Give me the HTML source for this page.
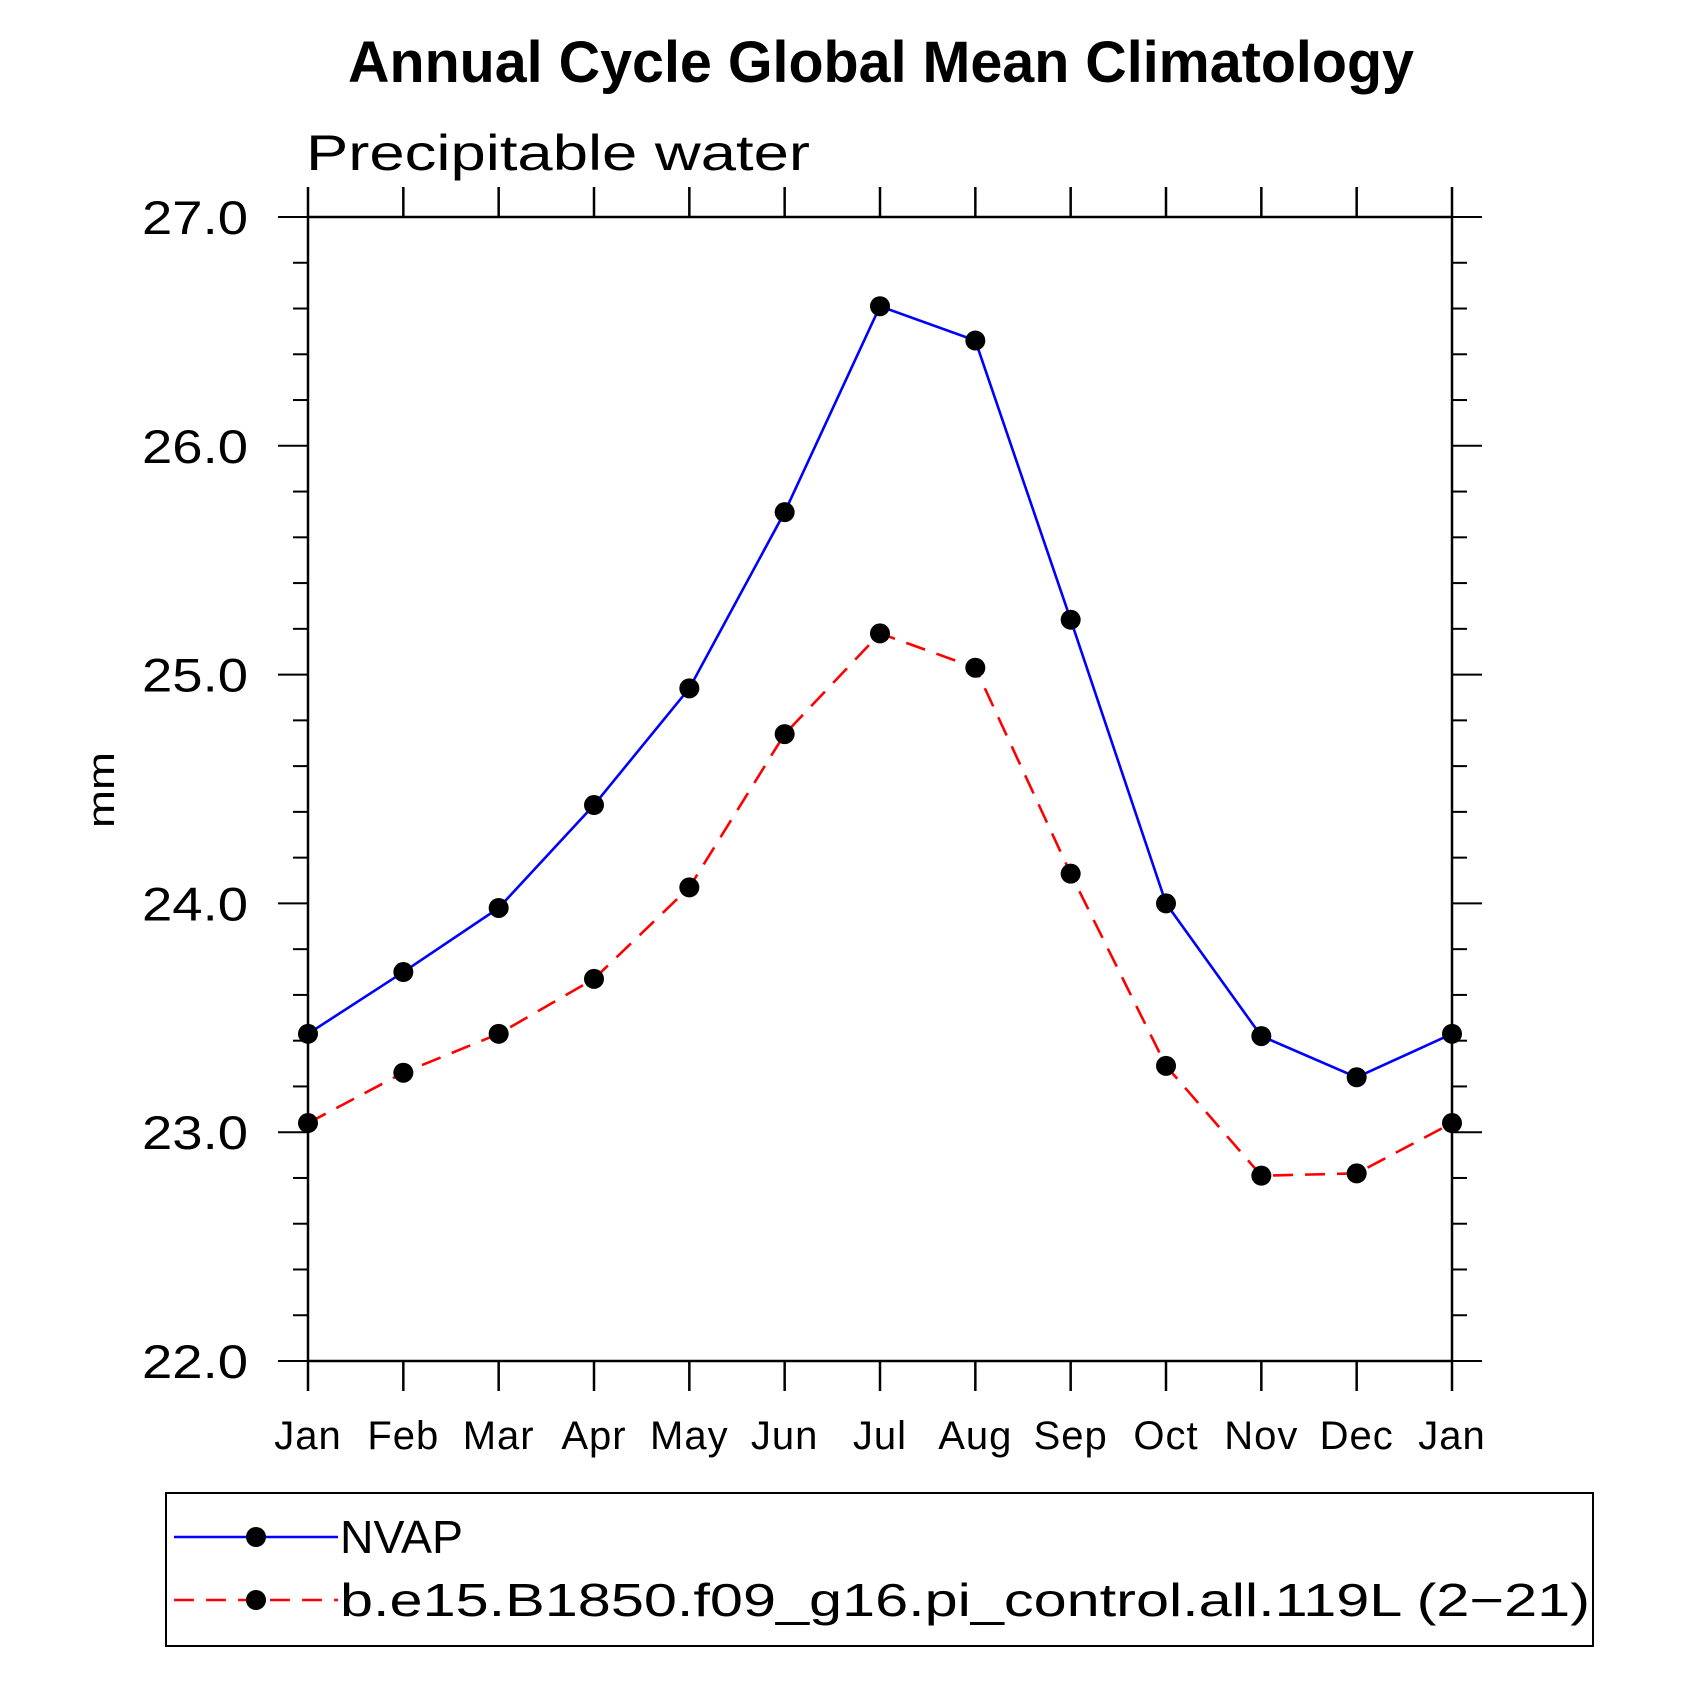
<!DOCTYPE html>
<html><head><meta charset="utf-8"><style>
html,body{margin:0;padding:0;background:#fff;}
svg{display:block;font-family:"Liberation Sans",sans-serif;}
</style></head><body>
<svg id="chart" width="1685" height="1685" viewBox="0 0 1685 1685">
<text x="348" y="82" font-size="58" font-weight="bold" textLength="1066" lengthAdjust="spacingAndGlyphs">Annual Cycle Global Mean Climatology</text>
<text x="306" y="170" font-size="50" textLength="504" lengthAdjust="spacingAndGlyphs">Precipitable water</text>
<text transform="translate(114,790) rotate(-90)" text-anchor="middle" font-size="38" textLength="76" lengthAdjust="spacingAndGlyphs">mm</text>
<g id="axes"></g>
<g id="series"></g>
<rect x="166" y="1493" width="1427" height="153" fill="none" stroke="#000" stroke-width="2"/>
<g>
<line x1="174" y1="1537" x2="338" y2="1537" stroke="#0000ff" stroke-width="2.5"/>
<circle cx="256" cy="1537" r="10" fill="#000"/>
<text x="340" y="1553" font-size="46" textLength="123" lengthAdjust="spacingAndGlyphs">NVAP</text>
</g>
<g>
<line x1="174" y1="1600" x2="338" y2="1600" stroke="#ff0000" stroke-width="2.5" stroke-dasharray="20,12"/>
<circle cx="256" cy="1600" r="10" fill="#000"/>
<text x="340" y="1616" font-size="46" textLength="1250" lengthAdjust="spacingAndGlyphs">b.e15.B1850.f09_g16.pi_control.all.119L (2−21)</text>
</g>
</svg>
<script>
const months = ["Jan","Feb","Mar","Apr","May","Jun","Jul","Aug","Sep","Oct","Nov","Dec","Jan"];
const nvap = [23.43,23.70,23.98,24.43,24.94,25.71,26.61,26.46,25.24,24.00,23.42,23.24,23.43];
const model = [23.04,23.26,23.43,23.67,24.07,24.74,25.18,25.03,24.13,23.29,22.81,22.82,23.04];
const yTicks = [22,23,24,25,26,27];
const yMin = 22, yMax = 27;
const L=308,R=1452,T=217,B=1361;
const NS="http://www.w3.org/2000/svg";
function xs(i){return L+(R-L)*i/(months.length-1);}
function ys(v){return B-(B-T)*(v-yMin)/(yMax-yMin);}
function mk(tag,attrs,parent){const e=document.createElementNS(NS,tag);for(const k in attrs)e.setAttribute(k,attrs[k]);parent.appendChild(e);return e;}
const ax=document.getElementById('axes');
const frame=mk('rect',{x:L,y:T,width:R-L,height:B-T,fill:'none',stroke:'#000','stroke-width':2.5},ax);


months.forEach((m,i)=>{
  const x=xs(i);
  const t1=mk('line',{x1:x,y1:B,x2:x,y2:B+30,stroke:'#000','stroke-width':2.5},ax);
  
  
  const t2=mk('line',{x1:x,y1:T,x2:x,y2:T-30,stroke:'#000','stroke-width':2.5},ax);
  
  
  const tx=mk('text',{x:x,y:1449,'text-anchor':'middle','font-size':40,'letter-spacing':1},ax);
  tx.textContent=m;
  
  
});
for(let v=yMin;v<=yMax+1e-9;v+=0.2){
  const y=ys(v);
  const major=Math.abs(v-Math.round(v))<1e-6;
  const len=major?30:15;
  const a=mk('line',{x1:L-len,y1:y,x2:L,y2:y,stroke:'#000','stroke-width':2},ax);
  
  
  const b=mk('line',{x1:R,y1:y,x2:R+len,y2:y,stroke:'#000','stroke-width':2},ax);
  
  
}
yTicks.forEach(v=>{
  const t=mk('text',{x:142,y:ys(v)+17,'font-size':47,textLength:106,lengthAdjust:'spacingAndGlyphs'},ax);
  t.textContent=v.toFixed(1);
  
  
});
const sg=document.getElementById('series');
function drawSeries(vals,color,dash,name){
  const pts=vals.map((v,i)=>xs(i)+','+ys(v)).join(' ');
  const pl=mk('polyline',{points:pts,fill:'none',stroke:color,'stroke-width':2.6},sg);
  if(dash)pl.setAttribute('stroke-dasharray',dash);
  
  
  vals.forEach((v,i)=>{
    const c=mk('circle',{cx:xs(i),cy:ys(v),r:10,fill:'#000'},sg);
    
    
  });
}
drawSeries(nvap,'#0000ff',null,'nvap');
drawSeries(model,'#ff0000','20,12','model');
</script>
</body></html>
